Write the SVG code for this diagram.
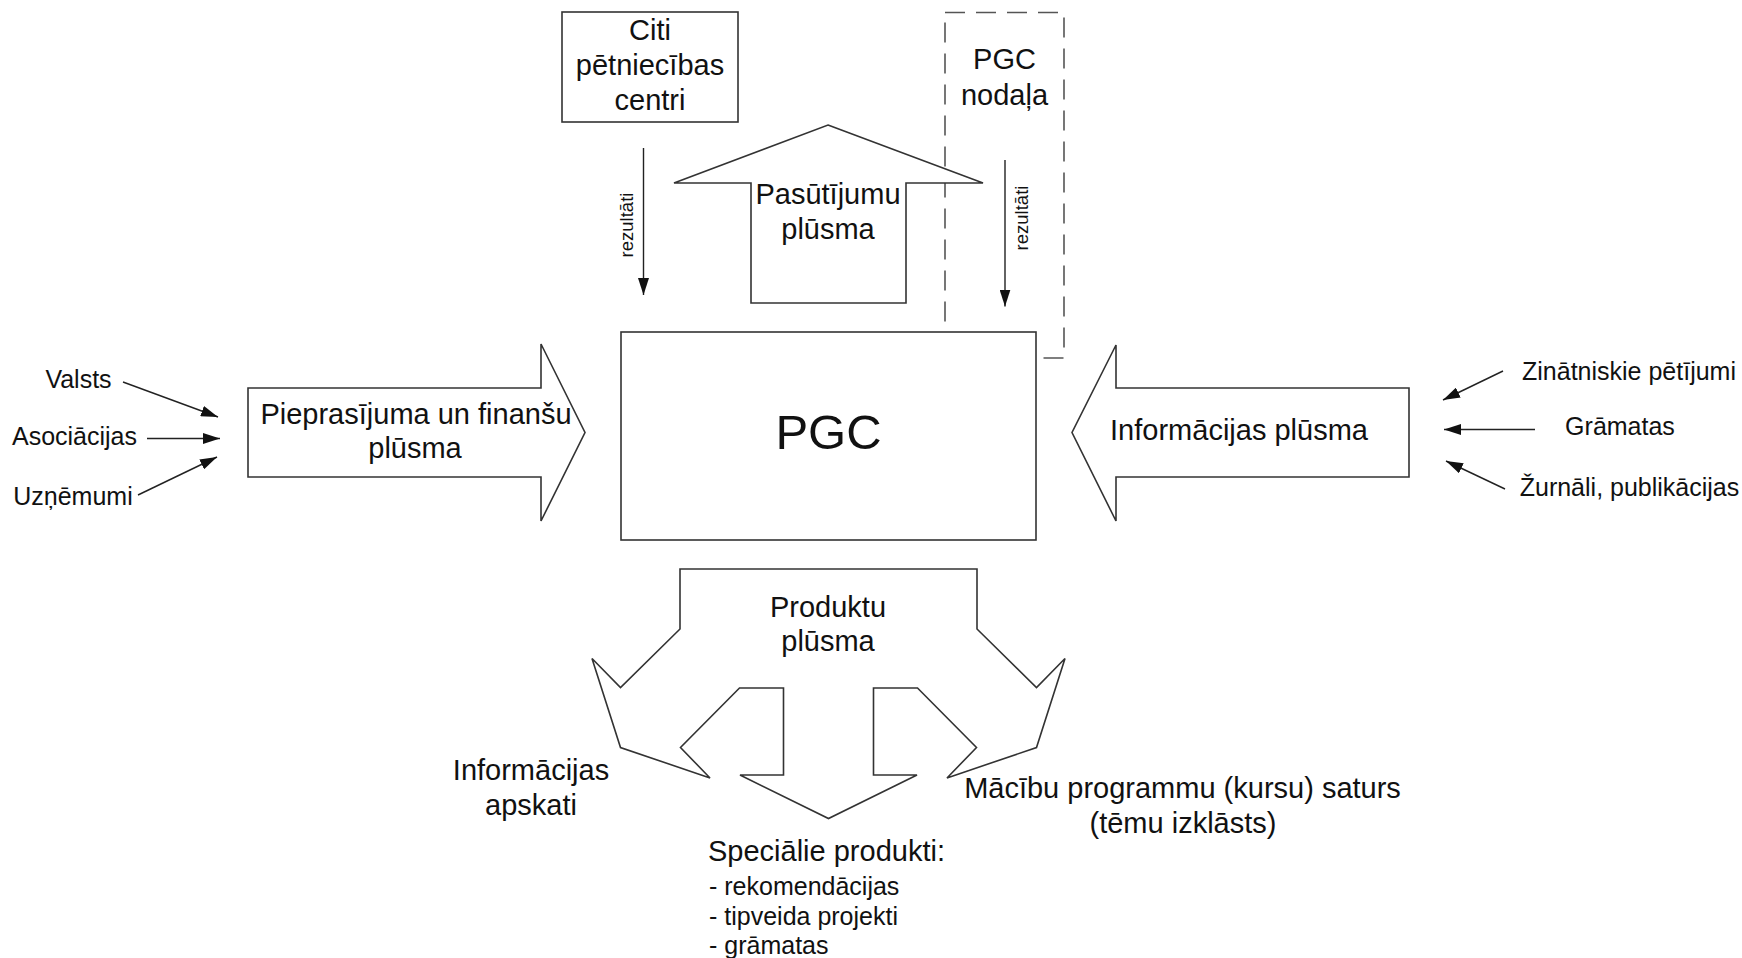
<svg xmlns="http://www.w3.org/2000/svg" width="1742" height="958" viewBox="0 0 1742 958">
<style>
.shape{fill:#fff;stroke:#333;stroke-width:1.6;stroke-linejoin:miter}
.dash{fill:none;stroke:#555;stroke-width:1.6;stroke-dasharray:20 11}
.lbl{font-family:"Liberation Sans",Arial,sans-serif;fill:#111;text-anchor:middle}
.big{font-size:29px}
.small{font-size:25px}
.rot{font-size:18.5px}
.conn{stroke:#222;stroke-width:1.4;fill:none;marker-end:url(#ah)}
</style>
<defs>
<marker id="ah" markerUnits="userSpaceOnUse" viewBox="0 0 17 11" markerWidth="17" markerHeight="11" refX="17" refY="5.5" orient="auto">
<path d="M0,0 L17,5.5 L0,11 Z" fill="#111"/>
</marker>
</defs>
<rect width="1742" height="958" fill="#fff"/>

<g id="pgc-nodala">
<rect class="dash" x="945" y="12.5" width="119" height="345.5"/>
<text class="lbl big" x="1004.5" y="69">PGC</text>
<text class="lbl big" x="1004.5" y="105">nodaļa</text>
</g>

<g id="citi-centri">
<rect class="shape" x="562" y="12" width="176" height="110"/>
<text class="lbl big" x="650" y="40">Citi</text>
<text class="lbl big" x="650" y="75">pētniecības</text>
<text class="lbl big" x="650" y="110">centri</text>
</g>

<g id="pasutijumu-plusma">
<path class="shape" d="M828,125 L983,183 L906,183 L906,303 L751,303 L751,183 L674,183 Z"/>
<text class="lbl big" x="828" y="204">Pasūtījumu</text>
<text class="lbl big" x="828" y="239">plūsma</text>
</g>

<g id="pgc">
<rect class="shape" x="621" y="332" width="415" height="208"/>
<text class="lbl" x="828.5" y="449" font-size="49">PGC</text>
</g>

<g id="pieprasijuma-plusma">
<path class="shape" d="M248,388 L541,388 L541,344 L585,432.5 L541,521 L541,477 L248,477 Z"/>
<text class="lbl big" x="416" y="424">Pieprasījuma un finanšu</text>
<text class="lbl big" x="415" y="458">plūsma</text>
</g>

<g id="informacijas-plusma">
<path class="shape" d="M1409,388 L1116,388 L1116,345 L1072,432.5 L1116,521 L1116,477 L1409,477 Z"/>
<text class="lbl big" x="1239" y="440">Informācijas plūsma</text>
</g>

<g id="produktu-plusma">
<path class="shape" d="M680,569 L977,569 L977,629 L1036.5,687.5 L1065,658.5 L1036.5,747.5 L947,778 L976.5,747.5 L917.5,688 L873.5,688 L873.5,775 L917,775 L828.5,818.5 L740,775 L783.5,775 L783.5,688 L739.5,688 L680.5,747.5 L710,778 L620.5,747.5 L592,658.5 L620.5,687.5 L680,629 Z"/>
<text class="lbl big" x="828" y="617">Produktu</text>
<text class="lbl big" x="828" y="651">plūsma</text>
</g>

<g id="valsts"><text class="lbl small" x="78.5" y="388">Valsts</text></g>
<g id="asociacijas"><text class="lbl small" x="74.5" y="445">Asociācijas</text></g>
<g id="uznemumi"><text class="lbl small" x="73" y="505">Uzņēmumi</text></g>

<g id="zinatniskie"><text class="lbl small" x="1629" y="380">Zinātniskie pētījumi</text></g>
<g id="gramatas"><text class="lbl small" x="1620" y="435">Grāmatas</text></g>
<g id="zurnali"><text class="lbl small" x="1629.5" y="496">Žurnāli, publikācijas</text></g>

<g id="informacijas-apskati">
<text class="lbl big" x="531" y="780">Informācijas</text>
<text class="lbl big" x="531" y="815">apskati</text>
</g>

<g id="macibu-programmu">
<text class="lbl big" x="1182.5" y="798">Mācību programmu (kursu) saturs</text>
<text class="lbl big" x="1183" y="833">(tēmu izklāsts)</text>
</g>

<g id="specialie-produkti">
<text class="lbl big" x="708" y="861" style="text-anchor:start">Speciālie produkti:</text>
<text class="lbl small" x="709" y="895" style="text-anchor:start">- rekomendācijas</text>
<text class="lbl small" x="709" y="925" style="text-anchor:start">- tipveida projekti</text>
<text class="lbl small" x="709" y="954" style="text-anchor:start">- grāmatas</text>
</g>

<g id="connectors">
<line class="conn" x1="123" y1="382" x2="218" y2="417"/>
<line class="conn" x1="147" y1="438.5" x2="220" y2="438.5"/>
<line class="conn" x1="138" y1="495" x2="217" y2="457"/>
<line class="conn" x1="1503" y1="371" x2="1443" y2="400"/>
<line class="conn" x1="1535" y1="429.5" x2="1444" y2="429.5"/>
<line class="conn" x1="1505" y1="489" x2="1446" y2="461"/>
<line class="conn" x1="643.5" y1="148" x2="643.5" y2="295"/>
<line class="conn" x1="1005" y1="160" x2="1005" y2="306.5"/>
<text class="lbl rot" transform="translate(633,225) rotate(-90)">rezultāti</text>
<text class="lbl rot" transform="translate(1028,218) rotate(-90)">rezultāti</text>
</g>
</svg>
